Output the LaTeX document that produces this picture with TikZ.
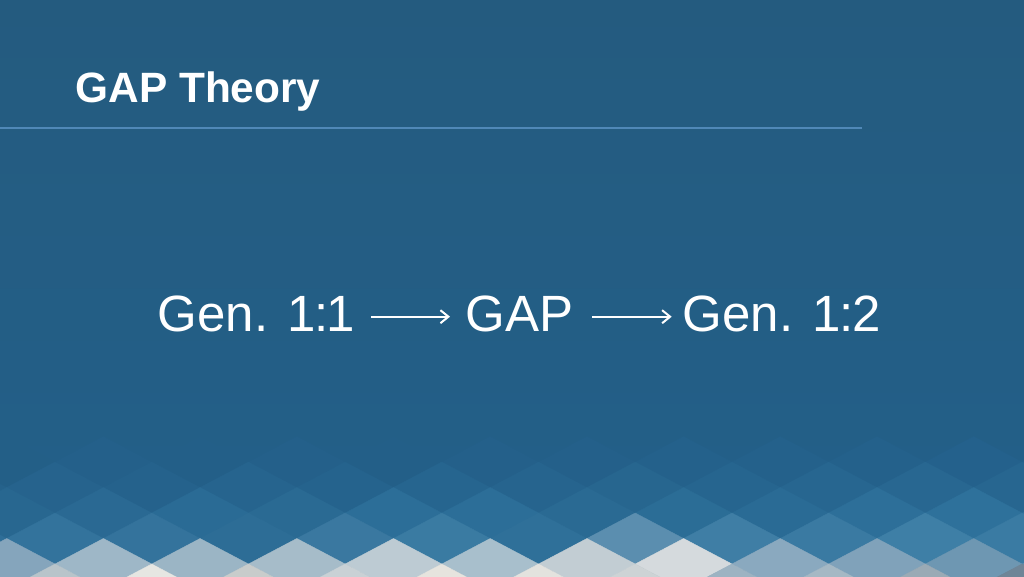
\documentclass[tikz,border=0pt]{standalone}
\usepackage{fontspec}
\setmainfont{Liberation Sans}
\usetikzlibrary{arrows.meta}
\definecolor{bgtop}{HTML}{245B7F}
\definecolor{bgbot}{HTML}{23608A}
\definecolor{rulecol}{HTML}{5088B7}
\tikzset{
  titletxt/.style={text=white, inner sep=0pt, font=\fontsize{42.4}{50}\selectfont\bfseries},
  bigtxt/.style={text=white, inner sep=0pt, font=\fontsize{51}{60}\selectfont},
  arr/.style={draw=white, line width=2pt, -{Straight Barb[length=8pt,width=13pt]}},
}
\newcommand{\diarow}[3]{%
  \foreach \cx/\cc in {#3} {
    \definecolor{tmpdia}{HTML}{\cc}
    \fill[tmpdia, draw=tmpdia, line width=0.4pt] ({#1+\cx-48.35},{#2}) -- ({#1+\cx},{#2-25.5}) -- ({#1+\cx+48.35},{#2}) -- ({#1+\cx},{#2+25.5}) -- cycle;
  }}
\begin{document}
\begin{tikzpicture}[x=1pt,y=-1pt]
\useasboundingbox (0,0) rectangle (1024,576);
\shade[top color=bgtop, bottom color=bgbot] (0,0) rectangle (1024,576);
\begin{scope}
\clip (0,0) rectangle (1024,576);
% row F (apex 436)
\diarow{0}{462}{-90/235F87, 6.7/235F87, 103.4/24608A, 200.1/235F88, 296.8/24608A, 393.5/235F88, 490.2/24608A, 586.9/24608A, 683.6/24618B, 780.3/24618B, 877/24618B, 973.7/24618C, 1070.4/24618C}
% row E (apex 462)
\diarow{0}{487.5}{-41.7/25628B, 55/26638D, 151.7/25628C, 248.4/26648E, 345.1/25638D, 441.8/26658F, 538.5/26648E, 635.2/27668F, 731.9/26658F, 828.6/276690, 925.3/286791, 1022/276690}
% row D (apex 487.5)
\diarow{0}{513}{-90/28678F, 6.7/286790, 103.4/2A6993, 200.1/2A6B95, 296.8/2A6A93, 393.5/2C6E98, 490.2/2C6E98, 586.9/2A6A93, 683.6/2B6D96, 780.3/2A6B95, 877/2D6F99, 973.7/2E719B, 1070.4/2E719B}
% row C (apex 513)
\diarow{0}{538.5}{-41.7/2E6E98, 55/33739C, 151.7/34739C, 248.4/2D6D96, 345.1/3A78A0, 441.8/3A7BA2, 538.5/2F7099, 635.2/5B8EAF, 731.9/3F7EA5, 828.6/3A7AA2, 925.3/3E7FA6, 1022/3A7BA3}
% row B (apex 538.5)
\diarow{0}{564}{-90/7FA1B9, 6.7/85A5BC, 103.4/9EB7C7, 200.1/9BB5C5, 296.8/A6BCC9, 393.5/BDCBD3, 490.2/A8BFCC, 586.9/C2CDD3, 683.6/D5DADD, 780.3/8AA9BF, 877/80A2BA, 973.7/6E97B2, 1070.4/5E8DAE}
% row A (apex 564)
\diarow{0}{589.5}{-41.7/A0B5C2, 55/B8C4CA, 151.7/E6E6E2, 248.4/C8CCCB, 345.1/C9D1D5, 441.8/E6E4DE, 538.5/E3E2DE, 635.2/CDD3D5, 731.9/9DB3C2, 828.6/A5B8C4, 925.3/9AAAB5, 1022/6F8597}
\end{scope}
% title and rule
\node[titletxt, anchor=base west] (title) at (75.3,102.8) {GAP Theory};
\coordinate (ruleL) at (0,128);
\coordinate (ruleR) at (862,128);
\draw[rulecol, line width=2.7pt] (ruleL) -- (ruleR);
% main line
\node[bigtxt, anchor=base west] (g1) at (157.6,331.2) {Gen. 1\kern-1.5pt:\kern-1.5pt1};
\node[bigtxt, anchor=base west] (gap) at (465.6,331.2) {GAP};
\node[bigtxt, anchor=base west] (g2) at (682.6,331.2) {Gen. 1\kern-1pt:\kern-1pt2};
\draw[arr, shorten <=15.6pt, shorten >=15.6pt] ([yshift=14.5pt]g1.base east) -- ([yshift=14.5pt]gap.base west);
\draw[arr, shorten <=18.4pt, shorten >=10.9pt] ([yshift=14.5pt]gap.base east) -- ([yshift=14.5pt]g2.base west);
\end{tikzpicture}
\end{document}
